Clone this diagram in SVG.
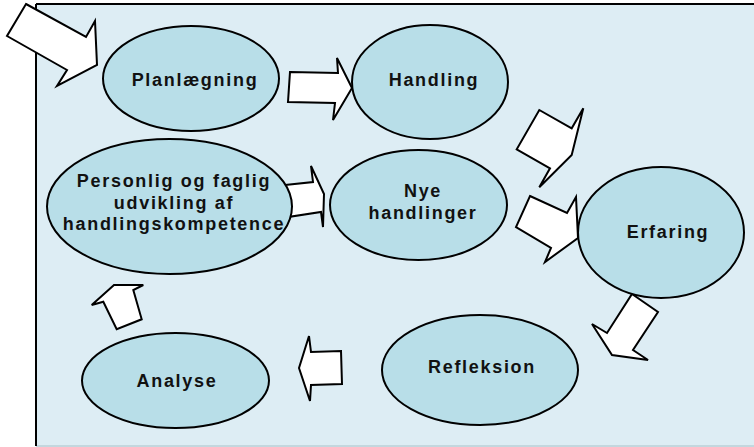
<svg xmlns="http://www.w3.org/2000/svg" width="754" height="447" viewBox="0 0 754 447">
<style>
.node ellipse{fill:#B8DEE8;stroke:#000;stroke-width:2}
.node text{font-family:"Liberation Sans",Arial,sans-serif;font-weight:bold;font-size:18px;letter-spacing:1.7px;fill:#111;text-anchor:middle}
.arrow{fill:#fff;stroke:#000;stroke-width:2;stroke-linejoin:miter}
</style>
<rect x="0" y="0" width="754" height="447" fill="#fff"/>
<rect x="36" y="4" width="718" height="442" fill="#DDEDF4"/>
<line x1="36" y1="446" x2="754" y2="446" stroke="#C3D7DE" stroke-width="2"/>
<line x1="36" y1="4" x2="754" y2="4" stroke="#000" stroke-width="2"/>
<line x1="36" y1="4" x2="36" y2="446" stroke="#000" stroke-width="2"/>
<g id="connectors">
<polygon class="arrow" points="26,4 86,37 95,21 97,65 57,86 67,70 7,36"/>
<polygon class="arrow" points="290,72 338,73 337,58 352,88 333,120 335,103 288,102"/>
<polygon class="arrow" points="539.3,110 571.7,128.3 583.3,108.3 571.7,155 539.3,187.3 550,168.3 516.7,149.3"/>
<polygon class="arrow" points="530,196 567,213 576,197 578,238 545,262 551,248 516,227"/>
<polygon class="arrow" points="285,185 313,182 311,166 324,194 323,227 321,212 288,217"/>
<polygon class="arrow" points="632,294 658,312 633,350 648,360 612,355 592,324 607,333"/>
<polygon class="arrow" points="309,336 311,352 341,351 342,384 311,385 310,401 299,368"/>
<polygon class="arrow" points="114,285 143.3,285 133.3,290 141.7,319.3 116.7,329.3 103.3,301.7 91.7,305"/>
</g>
<g id="planlaegning" class="node">
<ellipse cx="191" cy="78.5" rx="88" ry="52.5"/>
<text x="195" y="86">Planlægning</text>
</g>
<g id="handling" class="node">
<ellipse cx="430" cy="82" rx="78" ry="57"/>
<text x="434" y="86">Handling</text>
</g>
<g id="nye-handlinger" class="node">
<ellipse cx="418.5" cy="205" rx="88.5" ry="55"/>
<text x="423" y="197">Nye</text>
<text x="423" y="219">handlinger</text>
</g>
<g id="personlig" class="node">
<ellipse cx="169.5" cy="206.5" rx="122.5" ry="67.5"/>
<text x="174" y="187">Personlig og faglig</text>
<text x="174" y="209">udvikling af</text>
<text x="174" y="230">handlingskompetence</text>
</g>
<g id="erfaring" class="node">
<ellipse cx="661" cy="232.5" rx="83" ry="65.5"/>
<text x="668" y="238">Erfaring</text>
</g>
<g id="refleksion" class="node">
<ellipse cx="480" cy="370" rx="98" ry="55"/>
<text x="482" y="373">Refleksion</text>
</g>
<g id="analyse" class="node">
<ellipse cx="175.5" cy="380.5" rx="93.5" ry="47.5"/>
<text x="177" y="387">Analyse</text>
</g>
</svg>
